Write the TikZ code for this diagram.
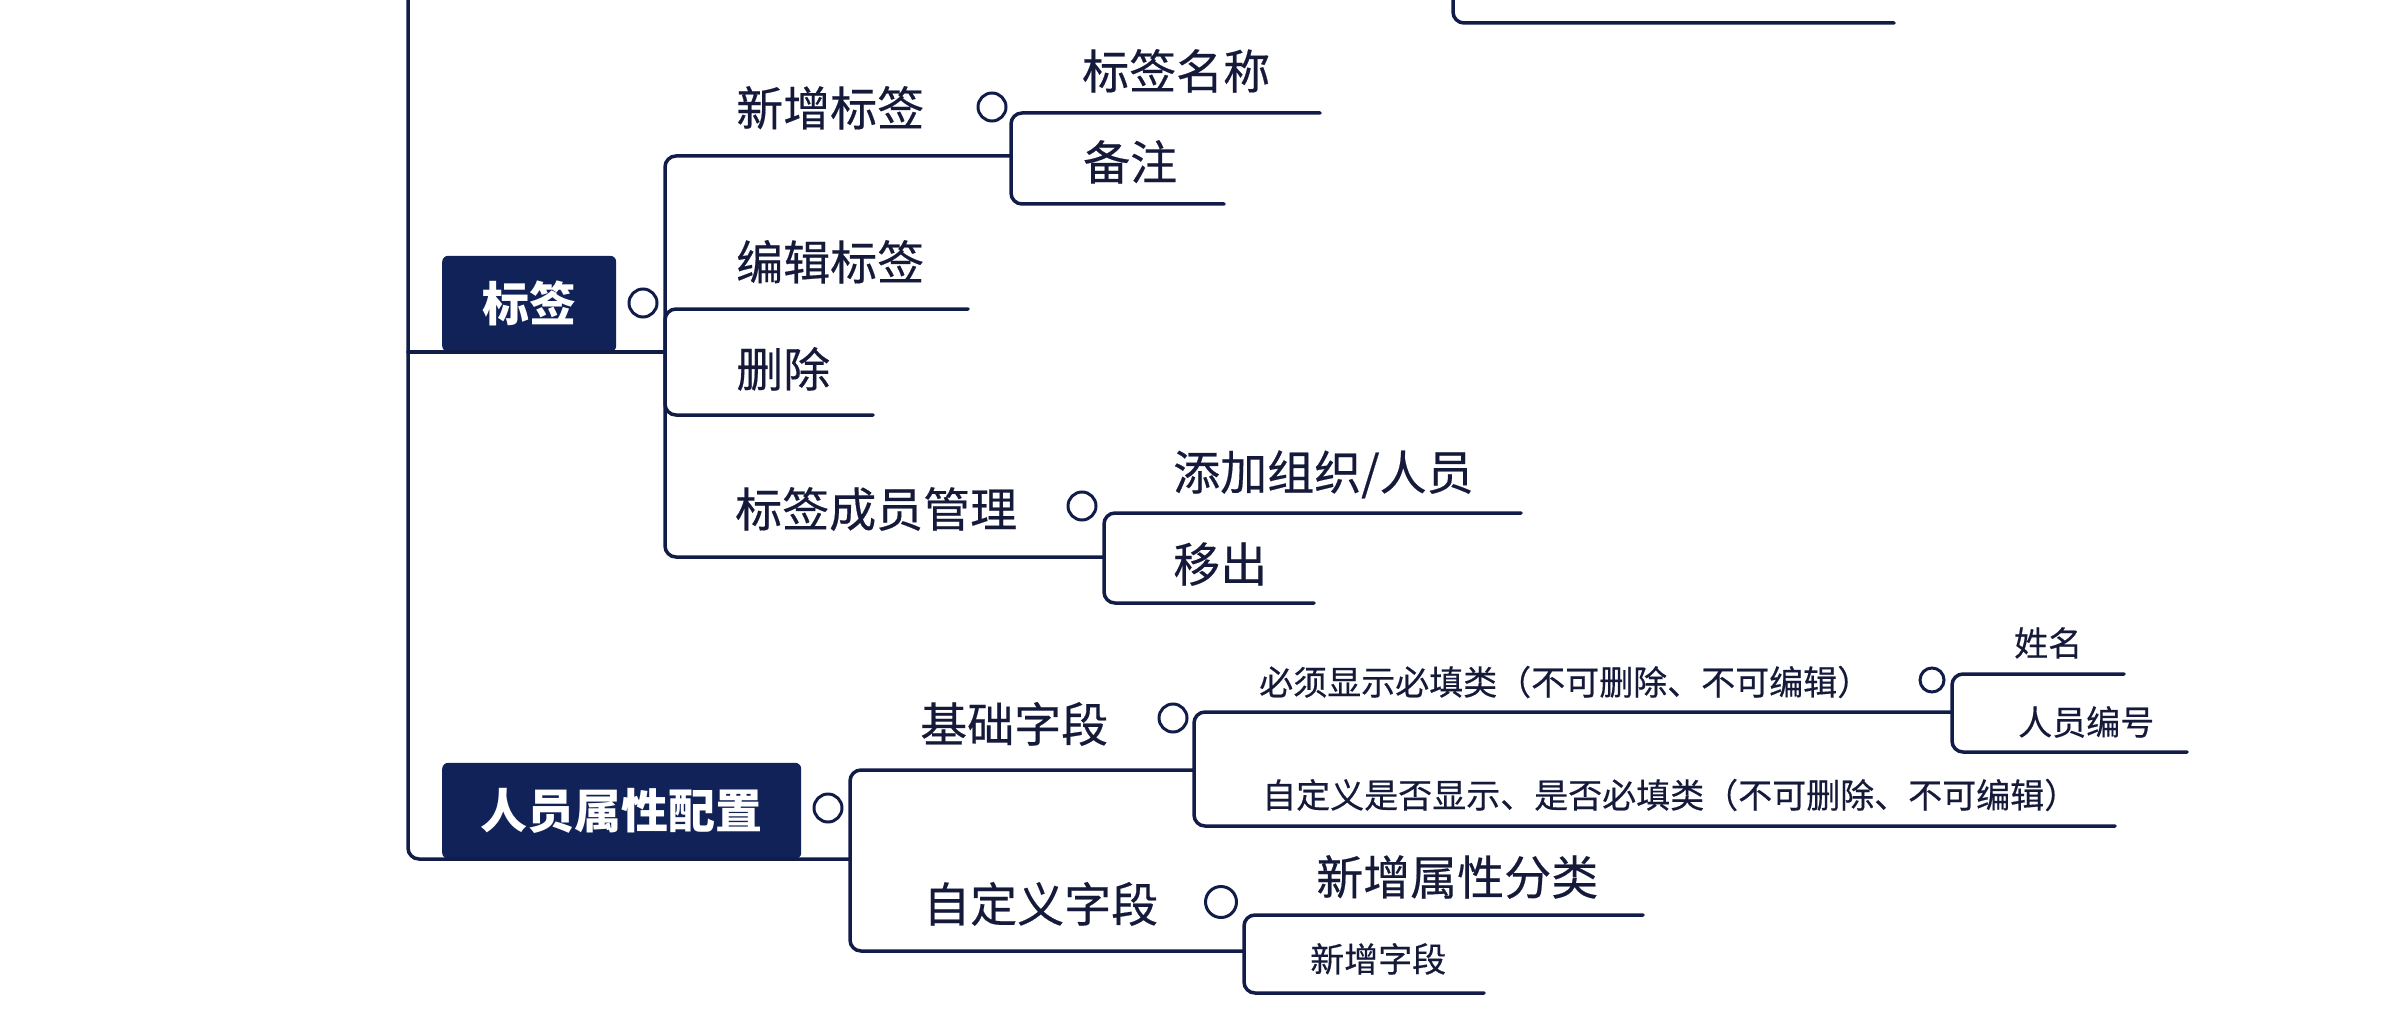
\documentclass[tikz,border=0pt]{standalone}
\usepackage{fontspec}
\setmainfont{Noto Sans CJK SC}
\newfontfamily\topicfont{Noto Sans CJK SC}[FakeBold=0.4]
\definecolor{navy}{RGB}{18,28,72}
\definecolor{boxfill}{RGB}{16,34,88}
\definecolor{ink}{RGB}{22,26,58}
\begin{document}
\begin{tikzpicture}[x=1pt,y=-1pt,
  link/.style={draw=navy, line width=3.5pt, rounded corners=11pt, line cap=round},
  big/.style={font=\topicfont\fontsize{47}{50}\selectfont, text=ink, inner sep=0pt, anchor=west, text height=39pt, text depth=3.3pt},
  small/.style={font=\topicfont\fontsize{34}{36}\selectfont, text=ink, inner sep=0pt, anchor=west, text height=28.2pt, text depth=2.4pt},
  rootbox/.style={fill=boxfill, rounded corners=6pt, inner sep=0pt, text=white, font=\fontsize{47}{50}\selectfont\bfseries, anchor=south west},
  knob/.style={circle, draw=navy, line width=3pt, fill=white, minimum size=28pt, inner sep=0pt},
  knobs/.style={knob, minimum size=24pt}]
\useasboundingbox (0,0) rectangle (2389,1024);

% coordinates of junctions and line ends
\coordinate (trunk-top) at (408,-10);
\coordinate (trunk-bq) at (408,352);
\coordinate (bq-j) at (665,352);
\coordinate (xzbq-j) at (1011,156);
\coordinate (bjbq-e) at (968,309);
\coordinate (sc-e) at (873,415);
\coordinate (cygl-j) at (1104,557);
\coordinate (bqmc-e) at (1320,113);
\coordinate (bz-e) at (1224,204);
\coordinate (tj-e) at (1521,513);
\coordinate (yc-e) at (1314,603);
\coordinate (rysx-j) at (850,859);
\coordinate (jczd-j) at (1194,770);
\coordinate (zdyzd-j) at (1244,951);
\coordinate (bxxs-j) at (1952,712);
\coordinate (zdysf-e) at (2115,826);
\coordinate (xm-e) at (2124,674);
\coordinate (rybh-e) at (2187,752);
\coordinate (xzsx-e) at (1643,915);
\coordinate (xzzd-e) at (1484,993);
\coordinate (tr-top) at (1453,-10);
\coordinate (tr-e) at (1894,23);

% root boxes
\node[rootbox, minimum width=174pt, minimum height=96pt] (bq) at (442,352) {标签};
\node[rootbox, minimum width=359pt, minimum height=96pt] (rysx) at (442,859) {人员属性配置};

% connectors
\draw[link] (tr-top) |- (tr-e);
\draw[link] (trunk-top) |- (rysx-j);
\draw[link] (trunk-bq) -- (bq-j);
\draw[link] (bq-j) |- (xzbq-j);
\draw[link] (bq-j) |- (bjbq-e);
\draw[link] (bq-j) |- (sc-e);
\draw[link] (bq-j) |- (cygl-j);
\draw[link] (xzbq-j) |- (bqmc-e);
\draw[link] (xzbq-j) |- (bz-e);
\draw[link] (cygl-j) |- (tj-e);
\draw[link] (cygl-j) |- (yc-e);
\draw[link] (rysx-j) |- (jczd-j);
\draw[link] (rysx-j) |- (zdyzd-j);
\draw[link] (jczd-j) |- (bxxs-j);
\draw[link] (jczd-j) |- (zdysf-e);
\draw[link] (bxxs-j) |- (xm-e);
\draw[link] (bxxs-j) |- (rybh-e);
\draw[link] (zdyzd-j) |- (xzsx-e);
\draw[link] (zdyzd-j) |- (xzzd-e);

% collapse knobs
\node[knob] (k-bq) at (643,303) {};
\node[knob] (k-xzbq) at (992,107) {};
\node[knob] (k-cygl) at (1082,506) {};
\node[knob] (k-rysx) at (828,808) {};
\node[knob] (k-jczd) at (1173,718) {};
\node[knob, minimum size=31pt] (k-zdyzd) at (1221,902) {};
\node[knobs] (k-bxxs) at (1932,680) {};

% topic texts
\node[big] (t-xzbq) at (736,108) {新增标签};
\node[big] (t-bjbq) at (736,262) {编辑标签};
\node[big] (t-sc) at (736,369) {删除};
\node[big] (t-cygl) at (735,509) {标签成员管理};
\node[big] (t-bqmc) at (1082,71) {标签名称};
\node[big] (t-bz) at (1083,162) {备注};
\node[big] (t-tj) at (1173,472) {添加组织/人员};
\node[big] (t-yc) at (1173,564) {移出};
\node[big] (t-jczd) at (920,724) {基础字段};
\node[big] (t-zdyzd) at (923,904) {自定义字段};
\node[big] (t-xzsx) at (1316,877) {新增属性分类};
\node[small] (t-bxxs) at (1259,682) {必须显示必填类（不可删除、不可编辑）};
\node[small] (t-zdysf) at (1262,795) {自定义是否显示、是否必填类（不可删除、不可编辑）};
\node[small] (t-xm) at (2014,643) {姓名};
\node[small] (t-rybh) at (2018,722) {人员编号};
\node[small] (t-xzzd) at (1310,959) {新增字段};
\end{tikzpicture}
\end{document}
